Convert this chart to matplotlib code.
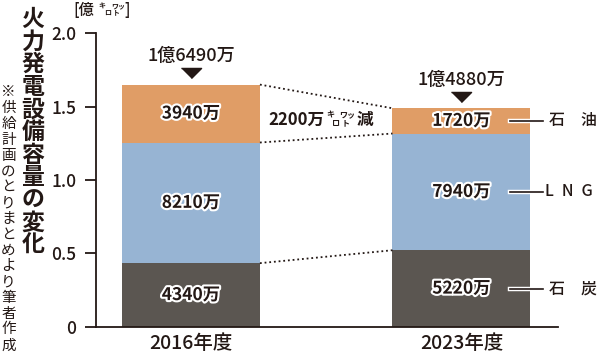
import numpy as np
import matplotlib.pyplot as plt
import matplotlib.patheffects as pe

plt.rcParams['font.family'] = ['Noto Sans CJK JP', 'DejaVu Sans']

# data (億キロワット)
years = ['2016年度', '2023年度']
coal = [0.434, 0.522]
lng = [0.821, 0.794]
oil = [0.394, 0.172]
coal_lbl = ['4340万', '5220万']
lng_lbl = ['8210万', '7940万']
oil_lbl = ['3940万', '1720万']
total_lbl = ['1億6490万', '1億4880万']
fuels = ['石\u3000油', 'L\u2002N\u2002G', '石\u3000炭']

c_coal = '#5b5651'
c_lng = '#97b4d3'
c_oil = '#e09d66'
ink = '#231815'

W, H = 600, 355
fig = plt.figure(figsize=(6, 3.55), dpi=100)
ax = fig.add_axes([0.16, 0.079, 0.77, 0.828])


def ftext(px, py, s, **kw):
    # place text on the figure in pixel coordinates (from top-left)
    fig.text(px / W, 1 - py / H, s, color=ink, **kw)


def vtext(px, py0, step, s, **kw):
    # vertical (tategaki) text: one character per position
    for k, ch in enumerate(s):
        ftext(px, py0 + k * step, ch, ha='center', va='center', **kw)


x = np.arange(len(years))
w = 0.51
coal = np.array(coal)
lng = np.array(lng)
oil = np.array(oil)
ax.bar(x, coal, w, color=c_coal)
ax.bar(x, lng, w, bottom=coal, color=c_lng)
ax.bar(x, oil, w, bottom=coal + lng, color=c_oil)

stroke = [pe.withStroke(linewidth=3, foreground='white')]
tri = [(-1, 0.5), (1, 0.5), (0, -0.5)]
for i in range(len(x)):
    segs = [(coal[i] / 2, coal_lbl[i]),
            (coal[i] + lng[i] / 2, lng_lbl[i]),
            (coal[i] + lng[i] + oil[i] / 2, oil_lbl[i])]
    for yy, s in segs:
        ax.text(x[i], yy, s, ha='center', va='center', fontsize=12.5,
                fontweight='bold', color=ink, path_effects=stroke)
    tot = coal[i] + lng[i] + oil[i]
    ax.plot(x[i], tot + 0.078, marker=tri, color=ink, markersize=14.5,
            clip_on=False)
    ax.text(x[i], tot + 0.192, total_lbl[i], ha='center', va='center',
            fontsize=13, fontweight='medium', color=ink)

# dotted connectors between bar edges
tops = [coal, coal + lng, coal + lng + oil]
for t in tops:
    ax.plot([x[0] + w / 2, x[1] - w / 2], [t[0], t[1]], ls=(0, (1, 1.6)),
            color=ink, lw=1.3)

# "2200万キロワット減" with the small stacked unit
small = dict(ha='left', va='center', fontsize=5.8, fontweight='bold', color=ink)
ax.text(0.495, 1.408, '2200万', ha='right', va='center', fontsize=12,
        fontweight='bold', color=ink)
ax.text(0.499, 1.442, 'キ', **small)
ax.text(0.521, 1.381, 'ロ', **small)
ax.text(0.549, 1.442, 'ワッ', **small)
ax.text(0.555, 1.381, 'ト', **small)
ax.text(0.612, 1.408, '減', ha='left', va='center', fontsize=12,
        fontweight='bold', color=ink)

# fuel labels on the right with leader lines
mids = [coal[1] + lng[1] + oil[1] / 2, coal[1] + lng[1] / 2, coal[1] / 2]
label_x = [1.412, 1.397, 1.412]
for name, m, lx in zip(fuels, mids, label_x):
    ax.plot([x[1] + 0.18, x[1] + 0.303], [m, m], color=ink, lw=1.2,
            path_effects=[pe.withStroke(linewidth=3.2, foreground='white')],
            clip_on=False)
    ax.text(lx, m, name, ha='center', va='center', fontsize=11.5,
            fontweight='medium', color=ink, clip_on=False)

ax.set_xlim(-0.351, 1.357)
ax.set_ylim(0, 2.0)
ax.set_xticks(x)
ax.set_xticklabels(years, fontsize=14, fontweight='medium')
ax.tick_params(axis='x', length=0, pad=5, colors=ink)
ax.set_yticks([0, 0.5, 1.0, 1.5, 2.0])
ax.set_yticklabels(['0', '0.5', '1.0', '1.5', '2.0'], fontsize=12.5,
                   fontweight='medium')
ax.tick_params(axis='y', direction='out', length=8, width=1.3, pad=6, colors=ink)
for s in ['top', 'right']:
    ax.spines[s].set_visible(False)
for s in ['left', 'bottom']:
    ax.spines[s].set_linewidth(1.3)
    ax.spines[s].set_color(ink)

# unit label [億キロワット]
tiny = dict(ha='left', va='center', fontsize=5, fontweight='bold')
ftext(73, 10, '[億', fontsize=11, fontweight='medium', ha='left', va='center')
ftext(98, 6, 'キ', **tiny)
ftext(104, 13, 'ロ', **tiny)
ftext(111, 6, 'ワッ', **tiny)
ftext(113, 13, 'ト', **tiny)
ftext(124, 10, ']', fontsize=11, fontweight='medium', ha='left', va='center')

# vertical title and note
vtext(33, 19.5, 22.6, '火力発電設備容量の変化', fontsize=16.5, fontweight='bold')
vtext(8.5, 92.5, 15.8, '※供給計画のとりまとめより筆者作成', fontsize=10.5)

fig.savefig('out.png', dpi=100)
